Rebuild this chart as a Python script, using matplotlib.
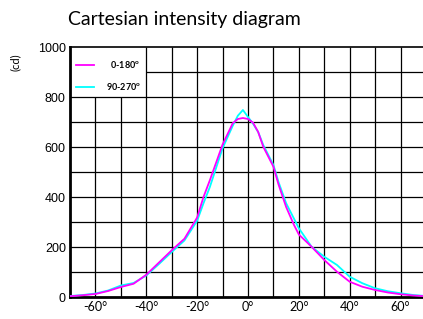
import numpy as np
import matplotlib.pyplot as plt
from matplotlib.lines import Line2D

angles = [-70, -65, -60, -55, -50, -45, -40, -35, -30, -25, -20, -17.5, -15, -10, -6, -4, -2, 0,
          2, 4, 6, 10, 12, 15, 18, 20, 25, 30, 35, 40, 45, 50, 55, 60, 65, 70]
c0_180 = [3, 7, 12, 24, 40, 53, 89, 138, 187, 233, 318, 400, 467, 610, 695, 712, 716, 712,
          697, 660, 601, 521, 450, 360, 290, 250, 201, 148, 101, 61, 41, 28, 18, 11, 6, 3]
c90_270 = [4, 8, 14, 26, 46, 56, 86, 132, 180, 226, 305, 375, 440, 595, 685, 725, 748, 720,
           693, 660, 608, 528, 460, 375, 315, 275, 201, 161, 128, 81, 55, 35, 23, 15, 8, 4]
labels = ["  0-180$^{\\mathregular{o}}$", "90-270$^{\\mathregular{o}}$"]
colors = ["#ff00ff", "#00ffff"]

xticks = [-60, -40, -20, 0, 20, 40, 60]
yticks = [0, 200, 400, 600, 800, 1000]

fig = plt.figure(figsize=(4.23, 3.19), dpi=100)
ax = fig.add_axes([70 / 423, 22 / 319, 356 / 423, 250 / 319])
ax.set_xlim(-70, 70)
ax.set_ylim(0, 1000)

# grid drawn by hand, leaving the legend corner empty
for x in range(-60, 70, 10):
    top = 800 if x < -40 else 1000
    ax.vlines(x, 0, top, color="black", lw=0.9, zorder=1)
for y in range(100, 1000, 100):
    left = -40 if y > 800 else -70
    ax.hlines(y, left, 70, color="black", lw=0.9, zorder=1)

ax.plot(angles, c90_270, color=colors[1], lw=1.3, zorder=3)
ax.plot(angles, c0_180, color=colors[0], lw=1.3, zorder=4)

for s in ["left", "bottom"]:
    ax.spines[s].set_linewidth(2)
ax.spines["top"].set_linewidth(1.2)
ax.spines["right"].set_visible(False)

ax.set_xticks(xticks)
ax.set_xticklabels([f"{v}°" for v in xticks], fontsize=9, family="Lato")
ax.set_yticks(yticks)
ax.set_yticklabels([str(v) for v in yticks], fontsize=9, family="Liberation Sans")
ax.tick_params(length=0, pad=3)

handles = [Line2D([], [], color=c, lw=1.3) for c in colors]
ax.legend(handles, labels, loc="upper left", frameon=False,
          handlelength=2.0, handletextpad=1.3, bbox_to_anchor=(-0.005, 0.985),
          labelspacing=1.25, prop={"family": "Lato", "size": 6.5, "weight": "bold"})

fig.text(68 / 423, 1 - 19 / 319, "Cartesian intensity diagram", fontsize=14,
         family="Lato", va="center", ha="left")
fig.text(15 / 423, 1 - 62 / 319, "(cd)", fontsize=8, family="Lato", rotation=90,
         va="center", ha="center")

fig.savefig("out.png", dpi=100)
